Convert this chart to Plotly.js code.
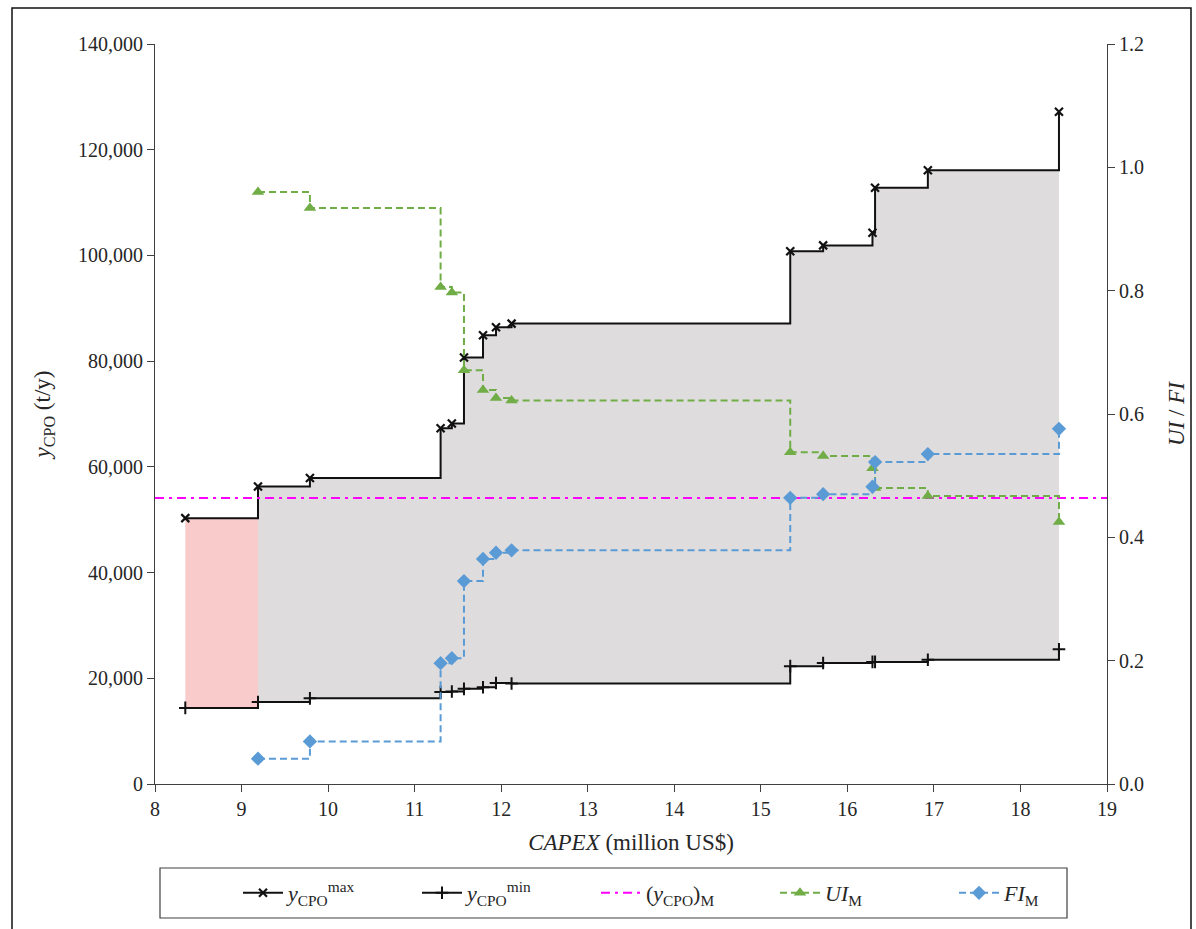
<!DOCTYPE html>
<html>
<head>
<meta charset="utf-8">
<script src="https://cdn.plot.ly/plotly-3.0.1.min.js"></script>
<style>
  html, body { margin: 0; padding: 0; background: #ffffff; }
  #chart { width: 1196px; height: 929px; }
</style>
</head>
<body>
<div id="chart"></div>
<script>
// CAPEX (million US$) for each design point
const capex = [8.35, 9.19, 9.79, 11.30, 11.43, 11.57, 11.79, 11.94, 12.12, 15.34, 15.72, 16.29, 16.32, 16.93, 18.445];
// Maximum and minimum CPO production (t/y)
const yCPOmax = [50300, 56300, 57900, 67300, 68200, 80700, 84900, 86400, 87100, 100800, 101900, 104300, 112800, 116100, 127200];
const yCPOmin = [14400, 15500, 16200, 17400, 17500, 18000, 18300, 19100, 19000, 22300, 22900, 23100, 23100, 23500, 25500];
// Flexibility indices (right axis); no value at the first design point
const uiM = [null, 0.960, 0.934, 0.806, 0.797, 0.671, 0.639, 0.626, 0.622, 0.538, 0.532, 0.512, 0.480, 0.467, 0.425];
const fiM = [null, 0.041, 0.069, 0.196, 0.204, 0.329, 0.365, 0.375, 0.379, 0.464, 0.470, 0.482, 0.522, 0.535, 0.576];
// Reference production level (t/y)
const yCPO_M = 54100;

// Axis settings
const xRange = [8, 19];
const yRange = [0, 140000];
const y2Range = [0, 1.2];

const serif = "Liberation Serif";
const txt = "#262626";
const axisCol = "#404040";

const traces = [];
// shaded region before the first feasible design (pink)
traces.push({x: capex.slice(0, 2), y: yCPOmin.slice(0, 2), mode: "lines", line: {width: 0, shape: "hv"}, showlegend: false, hoverinfo: "skip"});
traces.push({x: capex.slice(0, 2), y: yCPOmax.slice(0, 2), mode: "lines", line: {width: 0, shape: "hv"}, fill: "tonexty", fillcolor: "rgba(249,203,203,1)", showlegend: false, hoverinfo: "skip"});
// shaded feasible region (grey)
traces.push({x: capex.slice(1), y: yCPOmin.slice(1), mode: "lines", line: {width: 0, shape: "hv"}, showlegend: false, hoverinfo: "skip"});
traces.push({x: capex.slice(1), y: yCPOmax.slice(1), mode: "lines", line: {width: 0, shape: "hv"}, fill: "tonexty", fillcolor: "rgba(222,220,221,1)", showlegend: false, hoverinfo: "skip"});

traces.push({
  name: "<i>y</i><sub>CPO</sub><sup>max</sup>", x: capex, y: yCPOmax, mode: "lines+markers",
  line: {color: "#111111", width: 2, shape: "hv"},
  marker: {symbol: "x-thin", size: 8, line: {color: "#111111", width: 2.2}}
});
traces.push({
  name: "<i>y</i><sub>CPO</sub><sup>min</sup>", x: capex, y: yCPOmin, mode: "lines+markers",
  line: {color: "#111111", width: 2, shape: "hv"},
  marker: {symbol: "cross-thin", size: 9, line: {color: "#111111", width: 2}}
});
traces.push({
  name: "(<i>y</i><sub>CPO</sub>)<sub>M</sub>", x: xRange, y: [yCPO_M, yCPO_M], mode: "lines",
  line: {color: "#ff00ff", width: 2, dash: "9px,5px,3px,5px"}
});
traces.push({
  name: "<i>UI</i><sub>M</sub>", x: capex, y: uiM, yaxis: "y2", mode: "lines+markers",
  line: {color: "#70ad47", width: 2, dash: "7px,4px", shape: "hv"},
  marker: {symbol: "triangle-up", size: 11, color: "#70ad47"}
});
traces.push({
  name: "<i>FI</i><sub>M</sub>", x: capex, y: fiM, yaxis: "y2", mode: "lines+markers",
  line: {color: "#5b9bd5", width: 2, dash: "7px,4px", shape: "hv"},
  marker: {symbol: "diamond", size: 11, color: "#5b9bd5"}
});

const L = 155, R = 1107, T = 44, B = 784;
const pw = R - L, ph = B - T;
const px = v => (v - L) / pw;
const py = v => (B - v) / ph;

const layout = {
  width: 1196, height: 929,
  margin: {l: L, r: 1196 - R, t: T, b: 929 - B},
  paper_bgcolor: "#ffffff", plot_bgcolor: "#ffffff",
  font: {family: serif, size: 20, color: txt},
  showlegend: true,
  legend: {
    orientation: "h", x: px(238), xanchor: "left", y: py(893), yanchor: "middle",
    font: {family: serif, size: 22, color: txt},
    bgcolor: "rgba(0,0,0,0)", borderwidth: 0,
    itemwidth: 40, entrywidth: 124, entrywidthmode: "pixels",
    traceorder: "normal"
  },
  xaxis: {
    range: xRange, dtick: 1, tick0: 8, showgrid: false, zeroline: false,
    showline: true, linecolor: axisCol, linewidth: 1,
    ticks: "outside", ticklen: 7, tickcolor: axisCol,
    tickfont: {family: serif, size: 20, color: txt},
    title: {text: "<i>CAPEX</i> (million US$)", font: {family: serif, size: 23, color: txt}, standoff: 14}
  },
  yaxis: {
    range: yRange, dtick: 20000, tickformat: ",", showgrid: false, zeroline: false,
    showline: true, linecolor: axisCol, linewidth: 1,
    ticks: "outside", ticklen: 7, tickcolor: axisCol,
    tickfont: {family: serif, size: 20, color: txt},
    title: {text: "<i>y</i><sub>CPO</sub> (t/y)", font: {family: serif, size: 23, color: txt}, standoff: 20}
  },
  yaxis2: {
    range: y2Range, dtick: 0.2, tickformat: ".1f", overlaying: "y", side: "right",
    showgrid: false, zeroline: false,
    showline: true, linecolor: axisCol, linewidth: 1,
    ticks: "outside", ticklen: 7, tickcolor: axisCol,
    tickfont: {family: serif, size: 20, color: txt},
    title: {text: "<i>UI</i> / <i>FI</i>", font: {family: serif, size: 23, color: txt}, standoff: 24}
  },
  shapes: [
    {type: "rect", xref: "paper", yref: "paper", x0: px(160), x1: px(1067), y0: py(918), y1: py(868),
     line: {color: "#404040", width: 1.2}, fillcolor: "rgba(0,0,0,0)", layer: "above"},
    {type: "rect", xref: "paper", yref: "paper", x0: px(12), x1: px(1191), y0: py(945), y1: py(8),
     line: {color: "#111111", width: 1.5}, fillcolor: "rgba(0,0,0,0)", layer: "above"}
  ]
};

Plotly.newPlot("chart", traces, layout, {displayModeBar: false, staticPlot: true});
</script>
</body>
</html>
